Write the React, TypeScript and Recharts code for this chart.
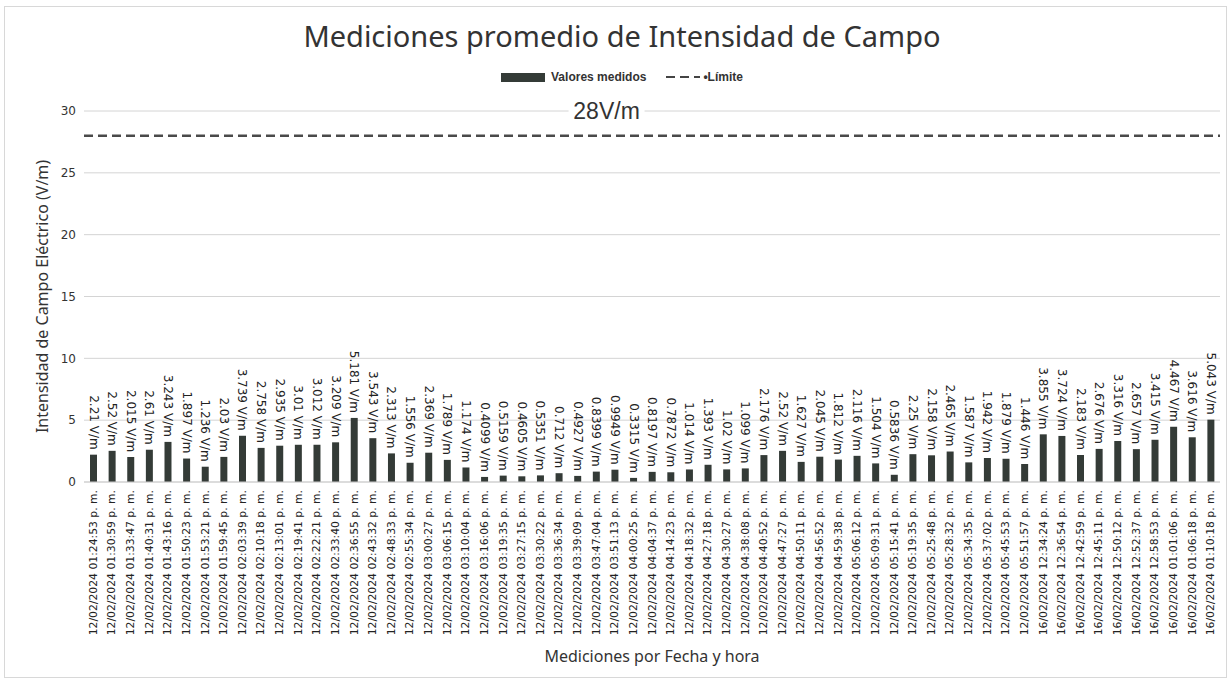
import {
  ComposedChart,
  Bar,
  XAxis,
  YAxis,
  CartesianGrid,
  ReferenceLine,
  LabelList
} from "recharts";

const fechas = [
  "12/02/2024 01:24:53 p. m.", "12/02/2024 01:30:59 p. m.", "12/02/2024 01:33:47 p. m.",
  "12/02/2024 01:40:31 p. m.", "12/02/2024 01:43:16 p. m.", "12/02/2024 01:50:23 p. m.",
  "12/02/2024 01:53:21 p. m.", "12/02/2024 01:59:45 p. m.", "12/02/2024 02:03:39 p. m.",
  "12/02/2024 02:10:18 p. m.", "12/02/2024 02:13:01 p. m.", "12/02/2024 02:19:41 p. m.",
  "12/02/2024 02:22:21 p. m.", "12/02/2024 02:33:40 p. m.", "12/02/2024 02:36:55 p. m.",
  "12/02/2024 02:43:32 p. m.", "12/02/2024 02:48:33 p. m.", "12/02/2024 02:55:34 p. m.",
  "12/02/2024 03:00:27 p. m.", "12/02/2024 03:06:15 p. m.", "12/02/2024 03:10:04 p. m.",
  "12/02/2024 03:16:06 p. m.", "12/02/2024 03:19:35 p. m.", "12/02/2024 03:27:15 p. m.",
  "12/02/2024 03:30:22 p. m.", "12/02/2024 03:36:34 p. m.", "12/02/2024 03:39:09 p. m.",
  "12/02/2024 03:47:04 p. m.", "12/02/2024 03:51:13 p. m.", "12/02/2024 04:00:25 p. m.",
  "12/02/2024 04:04:37 p. m.", "12/02/2024 04:14:23 p. m.", "12/02/2024 04:18:32 p. m.",
  "12/02/2024 04:27:18 p. m.", "12/02/2024 04:30:27 p. m.", "12/02/2024 04:38:08 p. m.",
  "12/02/2024 04:40:52 p. m.", "12/02/2024 04:47:27 p. m.", "12/02/2024 04:50:11 p. m.",
  "12/02/2024 04:56:52 p. m.", "12/02/2024 04:59:38 p. m.", "12/02/2024 05:06:12 p. m.",
  "12/02/2024 05:09:31 p. m.", "12/02/2024 05:15:41 p. m.", "12/02/2024 05:19:35 p. m.",
  "12/02/2024 05:25:48 p. m.", "12/02/2024 05:28:32 p. m.", "12/02/2024 05:34:35 p. m.",
  "12/02/2024 05:37:02 p. m.", "12/02/2024 05:45:53 p. m.", "12/02/2024 05:51:57 p. m.",
  "16/02/2024 12:34:24 p. m.", "16/02/2024 12:36:54 p. m.", "16/02/2024 12:42:59 p. m.",
  "16/02/2024 12:45:11 p. m.", "16/02/2024 12:50:12 p. m.", "16/02/2024 12:52:37 p. m.",
  "16/02/2024 12:58:53 p. m.", "16/02/2024 01:01:06 p. m.", "16/02/2024 01:06:18 p. m.",
  "16/02/2024 01:10:18 p. m."
];

const valores = [
  2.21, 2.52, 2.015, 2.61, 3.243, 1.897, 1.236, 2.03, 3.739, 2.758,
  2.935, 3.01, 3.012, 3.209, 5.181, 3.543, 2.313, 1.556, 2.369, 1.789,
  1.174, 0.4099, 0.5159, 0.4605, 0.5351, 0.712, 0.4927, 0.8399, 0.9949, 0.3315,
  0.8197, 0.7872, 1.014, 1.393, 1.02, 1.099, 2.176, 2.52, 1.627, 2.045,
  1.812, 2.116, 1.504, 0.5836, 2.25, 2.158, 2.465, 1.587, 1.942, 1.879,
  1.446, 3.855, 3.724, 2.183, 2.676, 3.316, 2.657, 3.415, 4.467, 3.616,
  5.043
];

const limite = 28;
const yTicks = [0, 5, 10, 15, 20, 25, 30];

const data = fechas.map((f, i) => ({ fecha: f, valor: valores[i] }));

const textColor = "#333";
const barColor = "#343b37";

const FechaTick = (props: any) => {
  const { x, y, payload } = props;
  return (
    <text
      x={x}
      y={y}
      transform={`rotate(-90, ${x}, ${y})`}
      textAnchor="end"
      dominantBaseline="central"
      fontSize={10.8}
      fontFamily="DejaVu Sans"
      fill="#222"
    >
      {payload.value}
    </text>
  );
};

const ValorLabel = (props: any) => {
  const { x, y, width, value } = props;
  const cx = x + width / 2;
  const cy = y - 5;
  return (
    <text
      x={cx}
      y={cy}
      transform={`rotate(90, ${cx}, ${cy})`}
      textAnchor="end"
      dominantBaseline="central"
      fontSize={12}
      fontFamily="DejaVu Sans"
      fill="#222"
    >
      {`${value} V/m`}
    </text>
  );
};

const LimiteLabel = (props: any) => {
  const { viewBox } = props;
  const cx = viewBox.x + viewBox.width * 0.46;
  const cy = viewBox.y - 25;
  return (
    <g>
      <rect x={cx - 38} y={cy - 12} width={76} height={24} fill="#fff" />
      <text
        x={cx}
        y={cy}
        textAnchor="middle"
        dominantBaseline="central"
        fontSize={23}
        fontFamily="Liberation Sans Narrow, Liberation Sans"
        fill="#333"
      >
        28V/m
      </text>
    </g>
  );
};

const Leyenda = () => (
  <div
    style={{
      position: "absolute",
      top: 70,
      left: 0,
      width: 1244,
      display: "flex",
      justifyContent: "center",
      alignItems: "center",
      fontFamily: "Liberation Sans Narrow, Liberation Sans",
      fontSize: 12,
      fontWeight: "bold",
      color: "#333"
    }}
  >
    <span style={{ display: "inline-block", width: 44, height: 9, background: barColor, marginRight: 6 }} />
    <span style={{ marginRight: 20 }}>Valores medidos</span>
    <svg width={34} height={10} style={{ marginRight: 3 }}>
      <line x1={0} y1={5} x2={34} y2={5} stroke="#444" strokeWidth={2} strokeDasharray="9 5" />
    </svg>
    <span>•Límite</span>
  </div>
);

export default function App() {
  return (
    <div
      style={{
        position: "absolute",
        left: 0,
        top: 0,
        width: 1231,
        height: 682,
        background: "#fff",
        overflow: "hidden"
      }}
    >
      <div
        style={{
          position: "absolute",
          left: 4,
          top: 6,
          width: 1221,
          height: 670,
          border: "1px solid #d8d8d8"
        }}
      />
      <div
        style={{
          position: "absolute",
          top: 16,
          left: 0,
          width: 1244,
          textAlign: "center",
          fontFamily: "Noto Sans",
          fontSize: 29,
          color: "#333"
        }}
      >
        Mediciones promedio de Intensidad de Campo
      </div>
      <Leyenda />
      <ComposedChart
        width={1231}
        height={682}
        data={data}
        margin={{ top: 111, right: 11, left: 24, bottom: 0 }}
        barCategoryGap={0}
      >
        <CartesianGrid vertical={false} stroke="#d4d4d4" />
        <XAxis
          dataKey="fecha"
          interval={0}
          height={200}
          tick={<FechaTick />}
          tickLine={false}
          axisLine={{ stroke: "#cfcfcf" }}
          label={{
            value: "Mediciones por Fecha y hora",
            position: "insideBottom",
            offset: 20,
            fontSize: 16,
            fontFamily: "Noto Sans",
            fill: textColor
          }}
        />
        <YAxis
          domain={[0, 30]}
          ticks={yTicks}
          width={60}
          axisLine={false}
          tickLine={false}
          tick={{ fontSize: 12, fill: textColor, fontFamily: "DejaVu Sans" }}
          label={{
            value: "Intensidad de Campo Eléctrico (V/m)",
            angle: -90,
            position: "insideLeft",
            offset: 18,
            style: { textAnchor: "middle" },
            fontSize: 16,
            fontFamily: "Noto Sans",
            fill: textColor
          }}
        />
        <ReferenceLine
          y={limite}
          stroke="#4a4a4a"
          strokeWidth={2.5}
          strokeDasharray="9 5"
          label={<LimiteLabel />}
        />
        <Bar dataKey="valor" fill={barColor} barSize={7} isAnimationActive={false}>
          <LabelList dataKey="valor" content={<ValorLabel />} />
        </Bar>
      </ComposedChart>
    </div>
  );
}
